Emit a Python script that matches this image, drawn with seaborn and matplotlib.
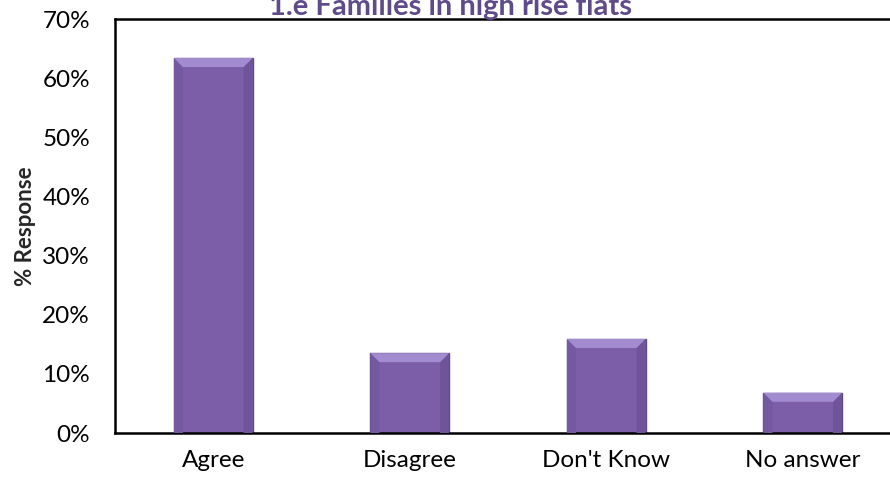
import matplotlib
matplotlib.use("Agg")
import matplotlib.pyplot as plt
import seaborn as sns
import pandas as pd
from matplotlib.ticker import PercentFormatter
from matplotlib.patches import Polygon

categories = ["Agree", "Disagree", "Don't Know", "No answer"]
values = [63.4, 13.5, 15.9, 6.8]
title = "1.e Families in high rise flats"
ylabel = "% Response"

sns.set_theme(style="white")
plt.rcParams['font.family'] = ['Lato', 'DejaVu Sans']

df = pd.DataFrame({"cat": categories, "val": values})
fig = plt.figure(figsize=(8.9, 4.84), dpi=100)
ax = fig.add_axes([115/890, 51/484, 786/890, 414/484])
sns.barplot(data=df, x="cat", y="val", color="#7B5DA8", width=0.4,
            edgecolor="#5E4985", linewidth=1.0, saturation=1, ax=ax)

ax.set_ylim(0, 70)
# bevel effect derived from the drawn bars
upp = 70 / 414.0          # data units per pixel (y)
xpp = 4.0 / 786.0         # data units per pixel (x), 4 categories wide
for p in list(ax.patches):
    x0 = p.get_x(); w = p.get_width(); h = p.get_height()
    x1 = x0 + w
    b = 9 * upp; d = 9 * xpp
    top = Polygon([(x0, h), (x1, h), (x1 - d, h - b), (x0 + d, h - b)],
                  closed=True, facecolor="#A38BD0", edgecolor="none", zorder=3)
    left = Polygon([(x0, h), (x0 + d, h - b), (x0 + d, 0), (x0, 0)],
                   closed=True, facecolor="#7458A0", edgecolor="none", zorder=3)
    right = Polygon([(x1, h), (x1 - d, h - b), (x1 - d, 0), (x1, 0)],
                    closed=True, facecolor="#6F549A", edgecolor="none", zorder=3)
    for poly in (left, right, top):
        ax.add_patch(poly)

ax.set_yticks(range(0, 71, 10))
ax.yaxis.set_major_formatter(PercentFormatter(decimals=0))
ax.tick_params(axis='both', length=0, labelsize=17.5, colors='black')
ax.tick_params(axis='y', pad=18)
ax.tick_params(axis='x', pad=12)
ax.set_xlabel("")
ax.set_ylabel(ylabel, fontsize=16, fontweight='bold')
ax.yaxis.set_label_coords(-(115 - 36) / 786, 0.5)
for s in ax.spines.values():
    s.set_color('black')
    s.set_linewidth(1.8)
fig.text(451/890, 1 - 15/484, title, ha='center', va='baseline',
         fontsize=21, fontweight='bold', color='#604B8A')
fig.savefig("out.png", dpi=100)
